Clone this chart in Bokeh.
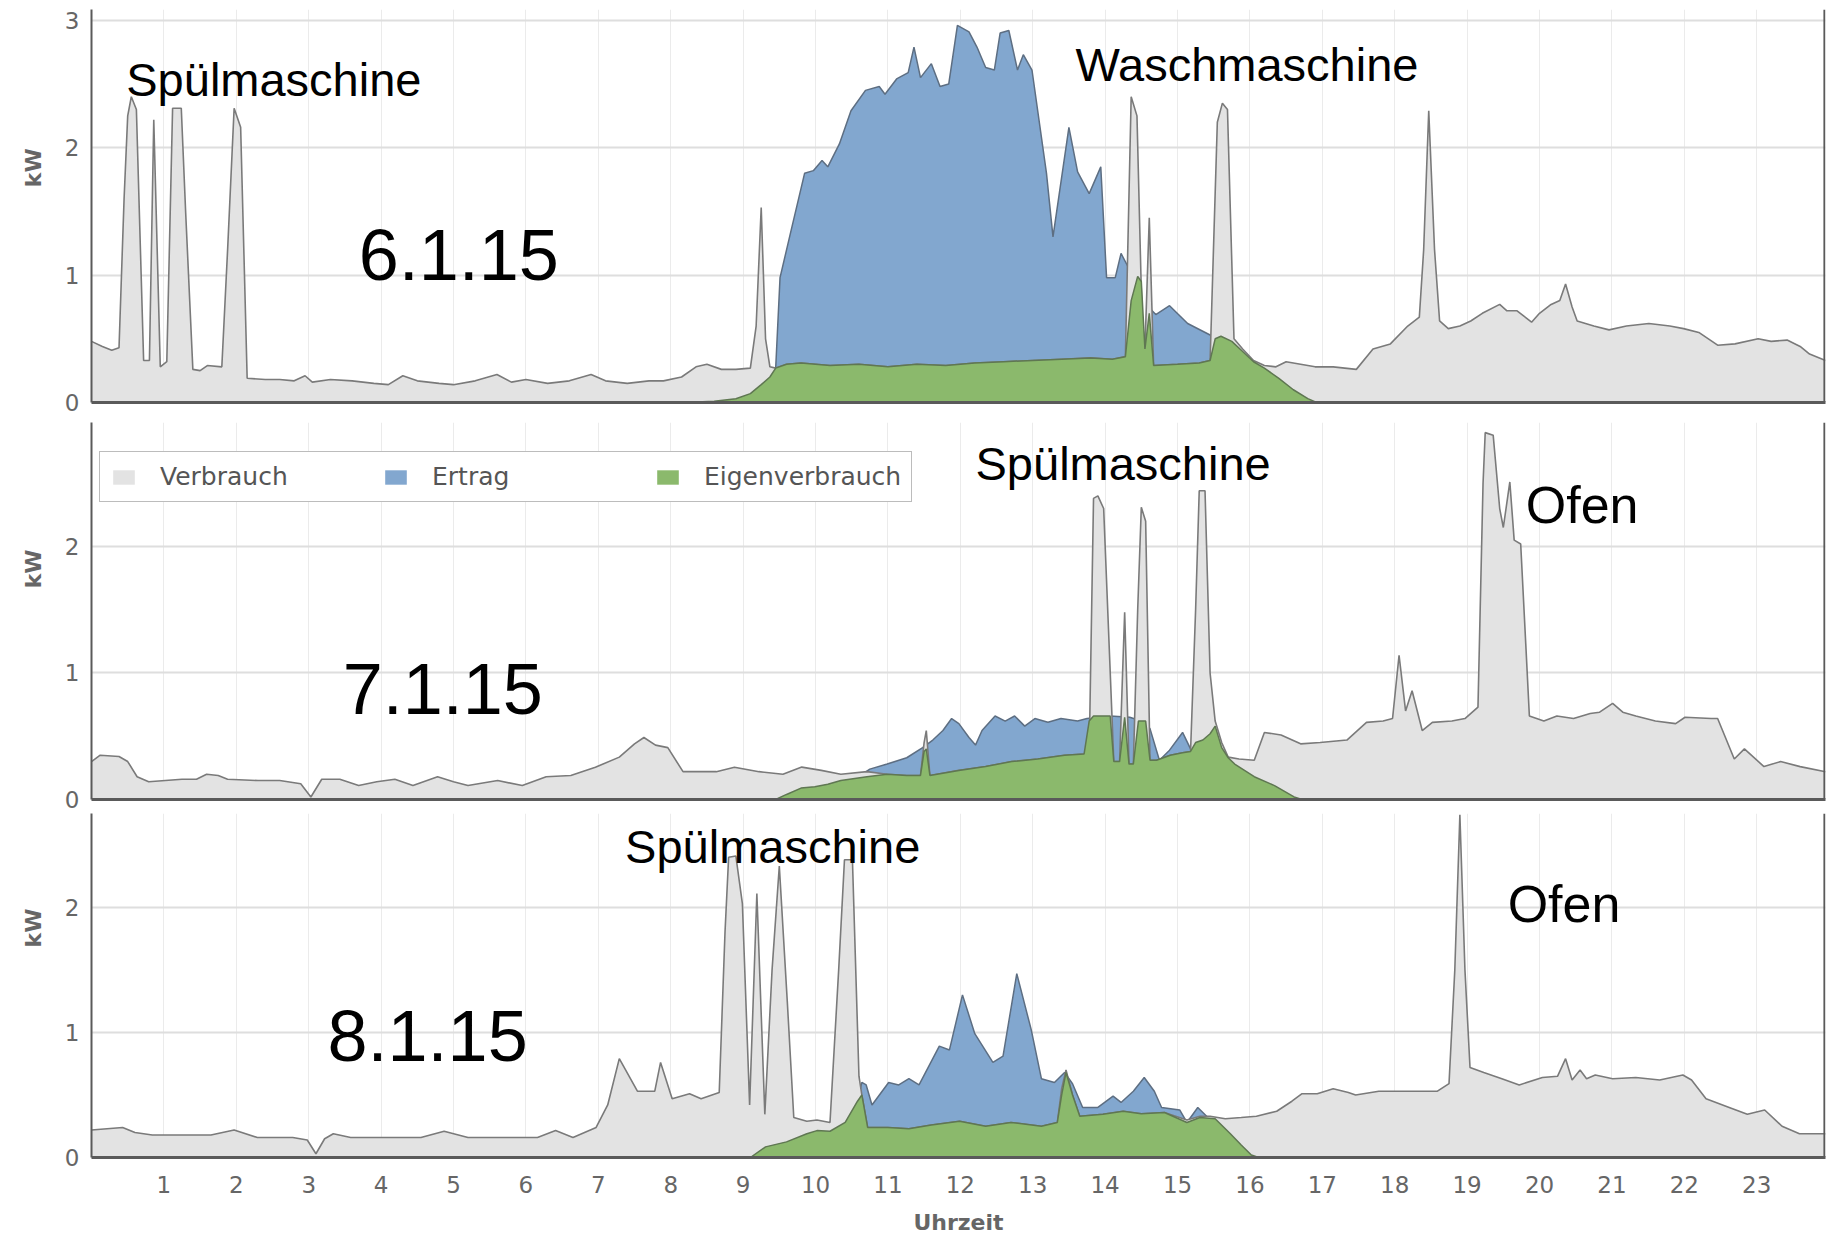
from bokeh.plotting import figure
from bokeh.layouts import column
from bokeh.models import Range1d, FixedTicker, Label, Legend, LegendItem, Span
from bokeh.embed import file_html
from bokeh.resources import INLINE

# ---------------- data (hours, kW) ----------------
# 6.1.15
p1_verbrauch_x = [0.00,0.15,0.28,0.38,0.45,0.50,0.55,0.62,0.72,0.80,0.86,0.95,1.04,1.12,1.24,1.30,1.40,1.50,1.60,1.80,1.88,1.97,2.06,2.15,2.40,2.60,2.80,2.95,3.05,3.30,3.60,3.90,4.10,4.30,4.50,4.80,5.00,5.30,5.60,5.80,6.00,6.30,6.60,6.90,7.10,7.40,7.70,7.90,8.15,8.35,8.50,8.70,8.90,9.10,9.18,9.25,9.31,9.37,9.45,9.60,9.80,10.20,10.60,11.00,11.40,11.80,12.20,12.60,13.00,13.40,13.80,14.10,14.28,14.36,14.44,14.52,14.55,14.61,14.67,15.00,15.30,15.45,15.55,15.62,15.69,15.78,15.90,16.05,16.20,16.36,16.50,16.70,16.90,17.15,17.47,17.70,17.94,18.18,18.34,18.40,18.47,18.55,18.62,18.74,18.90,19.05,19.21,19.45,19.55,19.69,19.89,20.00,20.16,20.28,20.36,20.45,20.52,20.75,20.96,21.20,21.51,21.80,21.99,22.20,22.46,22.70,23.02,23.20,23.42,23.60,23.73,23.95]
p1_verbrauch_y = [0.48,0.44,0.41,0.43,1.60,2.25,2.40,2.30,0.33,0.33,2.22,0.28,0.32,2.31,2.31,1.50,0.26,0.25,0.29,0.28,1.20,2.31,2.16,0.19,0.18,0.18,0.17,0.21,0.16,0.18,0.17,0.15,0.14,0.21,0.17,0.15,0.14,0.17,0.22,0.16,0.18,0.15,0.17,0.22,0.17,0.15,0.17,0.17,0.20,0.28,0.30,0.26,0.26,0.27,0.60,1.53,0.50,0.28,0.27,0.30,0.31,0.29,0.30,0.28,0.30,0.29,0.31,0.32,0.33,0.34,0.35,0.34,0.36,2.40,2.25,0.42,0.42,1.45,0.29,0.30,0.31,0.33,2.20,2.35,2.30,0.50,0.42,0.33,0.29,0.28,0.32,0.30,0.28,0.28,0.26,0.42,0.46,0.60,0.67,1.20,2.29,1.20,0.64,0.58,0.60,0.64,0.70,0.77,0.72,0.72,0.63,0.70,0.77,0.80,0.93,0.75,0.64,0.60,0.57,0.60,0.62,0.60,0.58,0.55,0.45,0.46,0.50,0.48,0.49,0.44,0.38,0.33]
p1_ertrag_x = [8.20,8.60,8.90,9.10,9.25,9.37,9.45,9.51,9.65,9.85,9.97,10.09,10.17,10.33,10.49,10.69,10.88,10.96,11.12,11.28,11.36,11.45,11.60,11.72,11.84,11.96,12.12,12.23,12.35,12.47,12.55,12.67,12.79,12.87,12.99,13.19,13.28,13.50,13.62,13.78,13.94,14.02,14.14,14.22,14.34,14.45,14.53,14.60,14.70,14.89,15.14,15.45,15.60,15.75,15.90,16.05,16.20,16.40,16.60,16.80,16.92]
p1_ertrag_y = [0.00,0.01,0.03,0.07,0.14,0.20,0.27,0.98,1.32,1.80,1.82,1.90,1.85,2.03,2.29,2.45,2.48,2.42,2.54,2.59,2.79,2.55,2.66,2.48,2.50,2.96,2.91,2.79,2.63,2.61,2.90,2.92,2.61,2.73,2.61,1.80,1.30,2.16,1.81,1.64,1.85,0.98,0.98,1.17,1.04,1.00,0.42,0.75,0.69,0.76,0.62,0.53,0.52,0.48,0.40,0.32,0.27,0.19,0.10,0.03,0.00]
p1_eigen_x = [8.20,8.60,8.90,9.10,9.25,9.37,9.45,9.60,9.80,10.20,10.60,11.00,11.40,11.80,12.20,12.60,13.00,13.40,13.80,14.10,14.28,14.36,14.45,14.50,14.55,14.61,14.67,15.00,15.30,15.45,15.52,15.60,15.75,15.90,16.05,16.20,16.40,16.60,16.80,16.92]
p1_eigen_y = [0.00,0.01,0.03,0.07,0.14,0.20,0.27,0.30,0.31,0.29,0.30,0.28,0.30,0.29,0.31,0.32,0.33,0.34,0.35,0.34,0.36,0.80,0.99,0.95,0.42,0.70,0.29,0.30,0.31,0.33,0.50,0.52,0.48,0.40,0.32,0.27,0.19,0.10,0.03,0.00]

# 7.1.15
p2_verbrauch_x = [0.00,0.12,0.38,0.50,0.63,0.79,1.25,1.45,1.59,1.75,1.88,2.30,2.60,2.89,3.03,3.18,3.43,3.69,3.94,4.19,4.44,4.78,5.00,5.20,5.61,5.95,6.28,6.62,6.96,7.29,7.50,7.63,7.79,7.96,8.17,8.40,8.63,8.88,9.22,9.55,9.81,10.08,10.35,10.71,10.99,11.26,11.45,11.50,11.53,11.58,11.98,12.35,12.71,13.07,13.44,13.71,13.78,13.84,13.90,13.98,14.12,14.20,14.27,14.33,14.39,14.45,14.50,14.56,14.62,14.71,14.90,15.07,15.18,15.25,15.30,15.38,15.45,15.52,15.61,15.70,15.85,16.06,16.20,16.43,16.70,16.97,17.34,17.61,17.84,17.97,18.06,18.15,18.24,18.38,18.52,18.79,18.97,19.15,19.22,19.25,19.36,19.45,19.50,19.59,19.65,19.74,19.81,19.86,20.06,20.24,20.47,20.70,20.83,21.01,21.15,21.33,21.60,21.88,22.01,22.37,22.46,22.69,22.83,23.10,23.33,23.60,23.95]
p2_verbrauch_y = [0.30,0.35,0.34,0.30,0.18,0.14,0.16,0.16,0.20,0.19,0.16,0.15,0.15,0.125,0.02,0.16,0.16,0.11,0.14,0.16,0.11,0.18,0.14,0.11,0.15,0.11,0.18,0.19,0.255,0.335,0.44,0.49,0.43,0.41,0.22,0.22,0.22,0.255,0.22,0.20,0.256,0.23,0.20,0.22,0.20,0.19,0.19,0.45,0.545,0.19,0.23,0.26,0.30,0.32,0.35,0.36,0.36,2.38,2.40,2.30,0.30,0.30,1.48,0.28,0.28,1.50,2.31,2.20,0.31,0.31,0.35,0.37,0.38,1.50,2.44,2.44,1.00,0.62,0.45,0.335,0.32,0.31,0.53,0.51,0.44,0.45,0.47,0.61,0.62,0.64,1.14,0.70,0.86,0.545,0.61,0.62,0.64,0.73,2.50,2.90,2.88,2.30,2.15,2.51,2.05,2.02,1.23,0.66,0.62,0.66,0.64,0.68,0.69,0.76,0.69,0.66,0.62,0.60,0.65,0.64,0.64,0.32,0.40,0.26,0.30,0.26,0.22]
p2_ertrag_x = [9.45,9.60,9.80,9.99,10.17,10.35,10.60,10.75,10.99,11.26,11.48,11.62,11.76,11.88,11.98,12.12,12.21,12.30,12.48,12.62,12.75,12.89,13.03,13.21,13.39,13.62,13.75,14.07,14.34,14.50,14.62,14.75,14.89,15.07,15.18,15.30,15.52,15.61,15.70,15.79,16.06,16.34,16.61,16.72]
p2_ertrag_y = [0.00,0.04,0.09,0.10,0.12,0.15,0.18,0.24,0.28,0.33,0.41,0.47,0.545,0.64,0.60,0.49,0.43,0.545,0.66,0.62,0.66,0.58,0.64,0.61,0.64,0.62,0.64,0.66,0.65,0.62,0.56,0.31,0.39,0.53,0.40,0.47,0.60,0.41,0.33,0.28,0.18,0.11,0.02,0.00]
p2_eigen_x = [9.45,9.60,9.80,9.99,10.17,10.35,10.71,10.99,11.26,11.45,11.50,11.53,11.58,11.98,12.35,12.71,13.07,13.44,13.71,13.78,13.84,14.07,14.12,14.20,14.27,14.33,14.39,14.46,14.56,14.62,14.71,14.90,15.07,15.18,15.25,15.35,15.45,15.52,15.61,15.70,15.79,16.06,16.34,16.61,16.72]
p2_eigen_y = [0.00,0.04,0.09,0.10,0.12,0.15,0.18,0.20,0.19,0.19,0.38,0.40,0.19,0.23,0.26,0.30,0.32,0.35,0.36,0.62,0.66,0.66,0.30,0.30,0.65,0.28,0.28,0.62,0.62,0.31,0.31,0.35,0.37,0.38,0.45,0.47,0.52,0.58,0.41,0.33,0.28,0.18,0.11,0.02,0.00]

# 8.1.15
p3_verbrauch_x = [0.00,0.43,0.60,0.84,1.65,1.97,2.29,2.78,2.98,3.10,3.22,3.34,3.58,4.55,4.87,5.20,6.16,6.41,6.65,6.97,7.13,7.29,7.54,7.78,7.86,8.02,8.26,8.42,8.67,8.75,8.80,8.90,8.99,9.09,9.19,9.30,9.40,9.50,9.61,9.70,9.88,10.02,10.20,10.32,10.40,10.51,10.60,10.64,10.72,11.00,11.29,11.60,11.99,12.35,12.70,13.12,13.34,13.40,13.46,13.55,13.65,13.97,14.25,14.50,14.82,15.13,15.31,15.45,15.66,15.88,16.09,16.37,16.58,16.72,16.93,17.15,17.36,17.46,17.78,18.20,18.59,18.75,18.83,18.90,18.97,19.04,19.23,19.48,19.72,20.04,20.25,20.36,20.45,20.56,20.65,20.77,21.01,21.33,21.66,21.98,22.10,22.30,22.62,22.87,23.11,23.35,23.59,23.95]
p3_verbrauch_y = [0.22,0.24,0.20,0.18,0.18,0.22,0.16,0.16,0.14,0.03,0.15,0.19,0.16,0.16,0.21,0.16,0.16,0.215,0.16,0.24,0.42,0.79,0.53,0.53,0.76,0.47,0.51,0.47,0.52,1.80,2.40,2.41,2.03,0.42,2.11,0.345,1.50,2.33,1.25,0.32,0.29,0.30,0.28,1.50,2.38,2.38,0.65,0.50,0.24,0.24,0.23,0.26,0.29,0.25,0.28,0.25,0.28,0.55,0.70,0.50,0.33,0.345,0.37,0.35,0.36,0.30,0.33,0.33,0.31,0.32,0.33,0.37,0.45,0.51,0.51,0.55,0.52,0.50,0.53,0.53,0.53,0.59,1.50,2.74,1.50,0.72,0.68,0.63,0.58,0.64,0.65,0.79,0.62,0.70,0.63,0.66,0.63,0.64,0.62,0.66,0.62,0.47,0.40,0.345,0.38,0.25,0.19,0.19]
p3_ertrag_x = [9.10,9.31,9.60,9.88,10.02,10.20,10.41,10.58,10.64,10.70,10.78,11.01,11.15,11.29,11.43,11.71,11.85,12.03,12.20,12.45,12.59,12.78,12.98,13.12,13.30,13.44,13.55,13.69,13.90,14.11,14.22,14.39,14.54,14.68,14.78,15.03,15.13,15.28,15.42,15.52,15.73,15.88,16.02,16.12]
p3_ertrag_y = [0.00,0.085,0.125,0.19,0.215,0.21,0.28,0.45,0.60,0.58,0.42,0.60,0.58,0.63,0.58,0.89,0.86,1.30,0.99,0.76,0.81,1.47,1.02,0.63,0.60,0.68,0.59,0.40,0.40,0.49,0.44,0.53,0.64,0.53,0.40,0.38,0.28,0.40,0.32,0.31,0.19,0.10,0.02,0.00]
p3_eigen_x = [9.10,9.31,9.60,9.88,10.02,10.20,10.41,10.58,10.64,10.72,11.00,11.29,11.60,11.99,12.35,12.70,13.12,13.34,13.40,13.46,13.55,13.65,13.97,14.25,14.50,14.82,15.13,15.31,15.52,15.73,15.88,16.02,16.12]
p3_eigen_y = [0.00,0.085,0.125,0.19,0.215,0.21,0.28,0.45,0.50,0.24,0.24,0.23,0.26,0.29,0.25,0.28,0.25,0.28,0.50,0.68,0.50,0.33,0.345,0.37,0.35,0.36,0.28,0.32,0.31,0.19,0.10,0.02,0.00]

hour_ticks = list(range(1, 24))
hour_grid = list(range(0, 25))
legend_labels = ["Verbrauch", "Ertrag", "Eigenverbrauch"]

# ---------------- styles ----------------
GRAY_FILL, GRAY_LINE = "#e3e3e3", "#7a7a7a"
BLUE_FILL, BLUE_LINE = "#82a7cf", "#5d6e82"
GREEN_FILL, GREEN_LINE = "#8bb96c", "#5f7752"
AXIS_COL = "#5a5a5a"
TICK_COL = "#666666"
XMAX = 23.95
NB = "\u00a0"


def make_fig(height, ymax, yticks, top, bottom, show_x, kw_pad):
    p = figure(width=1827, height=height, x_range=Range1d(0, XMAX),
               y_range=Range1d(0, ymax), toolbar_location=None,
               output_backend="svg", min_border_left=91, min_border_right=2,
               min_border_top=top, min_border_bottom=bottom)
    p.outline_line_color = None
    p.background_fill_color = "white"
    p.border_fill_color = "white"
    p.xgrid.ticker = FixedTicker(ticks=hour_grid)
    p.xgrid.grid_line_color = "#ebebeb"
    p.xgrid.grid_line_width = 1
    p.ygrid.ticker = FixedTicker(ticks=yticks)
    p.ygrid.grid_line_color = "#dedede"
    p.ygrid.grid_line_width = 2
    ya = p.yaxis[0]
    ya.ticker = FixedTicker(ticks=yticks)
    ya.axis_line_color = AXIS_COL
    ya.axis_line_width = 2
    ya.major_tick_line_color = None
    ya.minor_tick_line_color = None
    ya.major_tick_out = 0
    ya.major_tick_in = 0
    ya.major_label_standoff = 12
    ya.major_label_text_font = "DejaVu Sans"
    ya.major_label_text_font_size = "23px"
    ya.major_label_text_color = TICK_COL
    # leading no-break spaces lift the rotated label above the axis centre
    ya.axis_label = NB * kw_pad + "kW"
    ya.axis_label_standoff = 16
    ya.axis_label_text_font = "DejaVu Sans"
    ya.axis_label_text_font_size = "22px"
    ya.axis_label_text_font_style = "bold"
    ya.axis_label_text_color = TICK_COL
    xa = p.xaxis[0]
    xa.axis_line_color = AXIS_COL
    xa.axis_line_width = 3
    xa.major_tick_line_color = None
    xa.minor_tick_line_color = None
    xa.major_tick_out = 0
    xa.major_tick_in = 0
    if show_x:
        xa.ticker = FixedTicker(ticks=hour_ticks)
        xa.major_label_standoff = 18
        xa.major_label_text_font = "DejaVu Sans"
        xa.major_label_text_font_size = "23px"
        xa.major_label_text_color = TICK_COL
        xa.axis_label = "Uhrzeit"
        xa.axis_label_standoff = 14
        xa.axis_label_text_font = "DejaVu Sans"
        xa.axis_label_text_font_size = "22px"
        xa.axis_label_text_font_style = "bold"
        xa.axis_label_text_color = TICK_COL
    else:
        xa.ticker = FixedTicker(ticks=[])
        xa.major_label_standoff = 0
    p.add_layout(Span(location=XMAX - 0.015, dimension="height",
                      line_color=AXIS_COL, line_width=2))
    return p


def draw(p, vx, vy, ex, ey, gx, gy):
    r_e = p.varea(x=ex, y1=0, y2=ey, fill_color=BLUE_FILL)
    p.line(ex, ey, line_color=BLUE_LINE, line_width=1.5)
    r_v = p.varea(x=vx, y1=0, y2=vy, fill_color=GRAY_FILL)
    p.line(vx, vy, line_color=GRAY_LINE, line_width=1.6)
    r_g = p.varea(x=gx, y1=0, y2=gy, fill_color=GREEN_FILL)
    p.line(gx, gy, line_color=GREEN_LINE, line_width=1.5)
    return r_v, r_e, r_g


def note(p, text, x, y, size):
    p.add_layout(Label(x=x, y=y, text=text, text_font="Liberation Sans",
                       text_font_size=size, text_color="black",
                       text_baseline="alphabetic", text_align="left"))


p1 = make_fig(416, 3.085, [0, 1, 2, 3], 9, 14, False, 10)
draw(p1, p1_verbrauch_x, p1_verbrauch_y, p1_ertrag_x, p1_ertrag_y, p1_eigen_x, p1_eigen_y)
note(p1, "Spülmaschine", 0.48, 2.535, "47px")
note(p1, "6.1.15", 3.69, 1.16, "72px")
note(p1, "Waschmaschine", 13.59, 2.65, "47px")

p2 = make_fig(397, 2.98, [0, 1, 2], 6, 14, False, 11)
r_v, r_e, r_g = draw(p2, p2_verbrauch_x, p2_verbrauch_y, p2_ertrag_x, p2_ertrag_y, p2_eigen_x, p2_eigen_y)
note(p2, "Spülmaschine", 12.21, 2.656, "47px")
note(p2, "Ofen", 19.81, 2.33, "52px")
note(p2, "7.1.15", 3.47, 0.877, "72px")
legend = Legend(items=[LegendItem(label=legend_labels[0], renderers=[r_v]),
                       LegendItem(label=legend_labels[1], renderers=[r_e]),
                       LegendItem(label=legend_labels[2], renderers=[r_g])],
                orientation="horizontal", location=(8, 297), margin=0,
                padding=10, spacing=72, glyph_width=27, glyph_height=18,
                label_standoff=23, label_width=150,
                label_text_font="DejaVu Sans", label_text_font_size="25px",
                label_text_color="#555555", border_line_color="#7a7a7a",
                border_line_width=1.5, background_fill_color="white",
                background_fill_alpha=1.0)
p2.add_layout(legend)

p3 = make_fig(424, 2.75, [0, 1, 2], 0, 76, True, 15)
draw(p3, p3_verbrauch_x, p3_verbrauch_y, p3_ertrag_x, p3_ertrag_y, p3_eigen_x, p3_eigen_y)
note(p3, "Spülmaschine", 7.37, 2.49, "47px")
note(p3, "Ofen", 19.56, 2.03, "52px")
note(p3, "8.1.15", 3.26, 0.972, "72px")

layout = column(p1, p2, p3, spacing=0)
open("out.html", "w").write(file_html(layout, INLINE))
